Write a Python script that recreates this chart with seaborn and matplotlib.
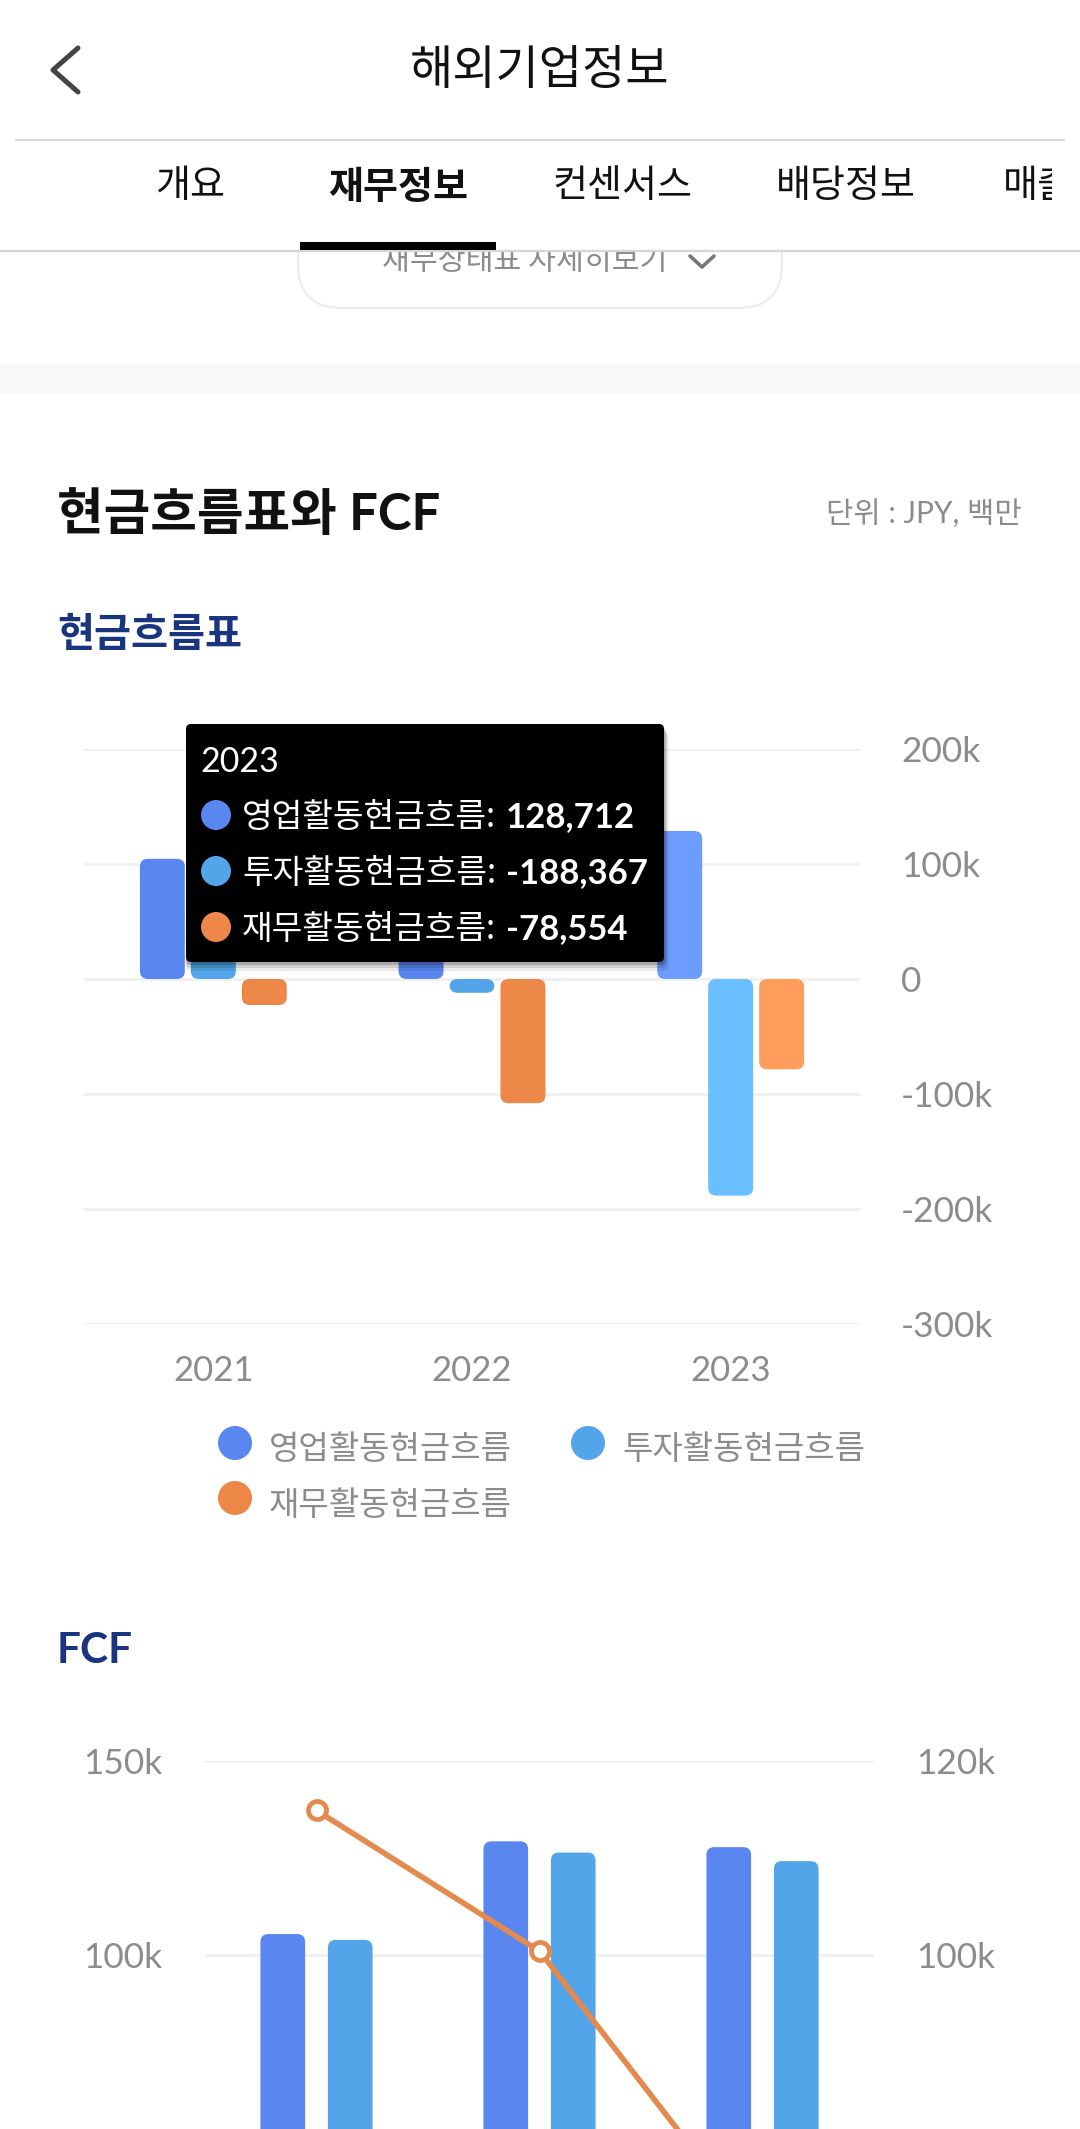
import matplotlib
matplotlib.use("Agg")
import matplotlib.pyplot as plt
from matplotlib.patches import FancyBboxPatch, Rectangle, Circle
from matplotlib.transforms import IdentityTransform
import numpy as np
import pandas as pd
import seaborn as sns

# --- data ---
years = ["2021", "2022", "2023"]
cf_names = ["영업활동현금흐름", "투자활동현금흐름", "재무활동현금흐름"]
operating_cf = [104500, 130000, 128712]
investing_cf = [30000, -12000, -188367]
financing_cf = [-22600, -108000, -78554]
cf_ticks = [200000, 100000, 0, -100000, -200000, -300000]
cf_ticklabels = ["200k", "100k", "0", "-100k", "-200k", "-300k"]

fcf_names = ["영업활동현금흐름", "투자활동현금흐름"]
fcf_operating = [105400, 129300, 127800]
fcf_second = [103900, 126400, 124200]
fcf_line = [114900, 100400, 70700]
# the lower ticks fall below the page, only these two show
fcf_left_ticks = [100000, 150000]
fcf_left_labels = ["100k", "150k"]
fcf_right_ticks = [100000, 120000]
fcf_right_labels = ["100k", "120k"]

tabs = ["개요", "재무정보", "컨센서스", "배당정보"]
tab_centers = [190, 398, 622, 846]

tooltip_year = "2023"
tooltip_values = ["128,712", "-188,367", "-78,554"]

# --- colours ---
BLUE = "#5a86f0"
SKY = "#52a5e8"
ORANGE = "#ec8748"
LINE_ORANGE = "#e48a4e"
HOVER = ["#6d9cff", "#69bfff", "#ff9d5c"]
GREY = "#8c8c8c"
GRID = "#f0f0f0"
NAVY = "#1a3580"

W, H = 1080, 2129
sns.set_theme(style="white")
plt.rcParams["font.family"] = ["Lato", "Noto Sans CJK KR", "DejaVu Sans"]
fig = plt.figure(figsize=(W / 100, H / 100), dpi=100, facecolor="white")


def px_axes(left, top, right, bottom):
    return fig.add_axes([left / W, 1 - bottom / H, (right - left) / W, (bottom - top) / H])


def round_bars(ax, radius, hover_last=None):
    # swap the seaborn bars for rounded ones, same size, in pixels
    fig.canvas.draw()
    for i, cont in enumerate(ax.containers):
        for j, bar in enumerate(cont):
            x0, y0 = ax.transData.transform((bar.get_x(), bar.get_y()))
            x1, y1 = ax.transData.transform((bar.get_x() + bar.get_width(), bar.get_y() + bar.get_height()))
            color = bar.get_facecolor()
            if hover_last is not None and j == len(cont) - 1:
                color = hover_last[i]
            bar.set_visible(False)
            ax.add_patch(FancyBboxPatch((x0, min(y0, y1)), x1 - x0, abs(y1 - y0),
                                        boxstyle=f"round,pad=0,rounding_size={radius}",
                                        fc=color, ec="none", transform=IdentityTransform(), zorder=3))


def style_axis(ax):
    ax.set_xlabel("")
    ax.set_ylabel("")
    ax.patch.set_alpha(0)
    sns.despine(ax=ax, left=True, right=True, top=True, bottom=True)


# --- 1. cash flow chart ---
cf_df = pd.DataFrame({
    "year": years * 3,
    "series": np.repeat(cf_names, 3),
    "value": operating_cf + investing_cf + financing_cf,
})
ax1 = px_axes(84, 749, 860, 1324)
sns.barplot(data=cf_df, x="year", y="value", hue="series", palette=[BLUE, SKY, ORANGE],
            width=0.591, gap=0.118, saturation=1, legend=False, ax=ax1)
ax1.set_xlim(-0.5, 2.5)
ax1.set_ylim(-300000, 200000)
ax1.set_yticks(cf_ticks, cf_ticklabels)
ax1.yaxis.tick_right()
ax1.grid(axis="y", color=GRID, lw=2)
ax1.set_axisbelow(True)
ax1.tick_params(axis="y", length=0, pad=29.5, labelsize=25.4, labelcolor=GREY)
ax1.tick_params(axis="x", length=0, pad=22, labelsize=25, labelcolor=GREY)
style_axis(ax1)
round_bars(ax1, 8, HOVER)

# --- 2. FCF chart, runs off the bottom of the page ---
fcf_df = pd.DataFrame({
    "year": years * 2,
    "series": np.repeat(fcf_names, 3),
    "value": fcf_operating + fcf_second,
})
ax2 = px_axes(205, 1761, 874, 2343)
sns.barplot(data=fcf_df, x="year", y="value", hue="series", palette=[BLUE, SKY],
            width=0.605, gap=0.338, saturation=1, legend=False, ax=ax2)
ax2.set_xlim(-0.5, 2.5)
ax2.set_ylim(0, 150000)
ax2.set_yticks(fcf_left_ticks, fcf_left_labels)
ax2.set_xticks([])
ax2.grid(axis="y", color=GRID, lw=2)
ax2.set_axisbelow(True)
ax2.tick_params(axis="y", length=0, pad=31, labelsize=25.4, labelcolor=GREY)
style_axis(ax2)
round_bars(ax2, 8)

ax2r = ax2.twinx()
sns.lineplot(x=np.arange(len(years)), y=fcf_line, color=LINE_ORANGE, lw=4, marker="o", ms=13,
             mfc="white", mec=LINE_ORANGE, mew=3.4, errorbar=None, ax=ax2r)
ax2r.set_xlim(-0.5, 2.5)
ax2r.set_ylim(60000, 120000)
ax2r.set_yticks(fcf_right_ticks, fcf_right_labels)
ax2r.set_xticks([])
ax2r.grid(False)
ax2r.tick_params(axis="y", length=0, pad=30.5, labelsize=25.4, labelcolor=GREY)
style_axis(ax2r)

# --- 3. page chrome, pixel coordinates ---
ov = fig.add_axes([0, 0, 1, 1], zorder=10)
ov.set_xlim(0, W)
ov.set_ylim(H, 0)
ov.axis("off")
ov.patch.set_alpha(0)

KR = ["Noto Sans CJK KR", "DejaVu Sans"]

# button half hidden under the tab bar
ov.add_patch(FancyBboxPatch((298, 200), 484, 108, boxstyle="round,pad=0,rounding_size=44",
                            fc="white", ec="#ececec", lw=1.6, zorder=1))
ov.text(525, 261, "재무상태표 자세히보기", family=KR, fontsize=21.8, color=GREY, ha="center", va="center", zorder=1)
ov.plot([690, 702, 714], [256, 267, 256], color="#777777", lw=2.6, zorder=1)

# header
ov.add_patch(Rectangle((0, 0), W, 250, fc="white", ec="none", zorder=2))
ov.plot([53 + 25, 53, 53 + 25], [48, 70, 92], color="#444444", lw=3.6, zorder=3)
ov.text(540, 71, "해외기업정보", family=KR, fontsize=33.9, color="#111111", ha="center", va="center", zorder=3)
ov.plot([16, 1064], [140, 140], color="#d6d6d6", lw=1.6, zorder=3)
for name, cx in zip(tabs, tab_centers):
    ov.text(cx, 187, name, family=KR, fontsize=27.4, color="#111111", ha="center", va="center",
            fontweight="bold" if name == "재무정보" else "normal", zorder=3)
cut = ov.text(1003, 187, "매출구성", family=KR, fontsize=27.4, color="#111111", ha="left", va="center",
              zorder=3, clip_on=True)
cut.set_clip_path(Rectangle((1003, 140), 49, 100, transform=ov.transData))
ov.plot([0, W], [250.5, 250.5], color="#d6d6d6", lw=1.6, zorder=3)
ov.add_patch(Rectangle((300, 242), 196, 8, fc="black", ec="none", zorder=4))

# grey band
ov.add_patch(Rectangle((0, 365), W, 29, fc="#f8f8f8", ec="none", zorder=1))

# headings
ov.text(57, 515, "현금흐름표와 FCF", fontsize=36.5, fontweight="bold", color="#111111", va="center")
ov.text(1022, 514, "단위 : JPY, 백만", fontsize=21.4, color=GREY, ha="right", va="center")
ov.text(57, 635, "현금흐름표", family=KR, fontsize=29, fontweight="bold", color=NAVY, va="center")
ov.text(57, 1651, "FCF", fontsize=30.5, fontweight="bold", color=NAVY, va="center")

# legend
legend_colors = [BLUE, SKY, ORANGE]
legend_pos = [(235, 1443), (588, 1443), (235, 1498)]
for name, col, (lx, ly) in zip(cf_names, legend_colors, legend_pos):
    ov.add_patch(Circle((lx, ly), 17, fc=col, ec="none"))
    ov.text(lx + 34, ly + 7, name, family=KR, fontsize=23.8, color=GREY, va="center")

# tooltip with a soft shadow
for off, alpha in [(9, 0.08), (6, 0.12), (3, 0.18)]:
    ov.add_patch(FancyBboxPatch((186, 724 + off), 478 + off / 2, 238, boxstyle="round,pad=0,rounding_size=5",
                                fc="black", ec="none", alpha=alpha, zorder=5))
ov.add_patch(FancyBboxPatch((186, 724), 478, 238, boxstyle="round,pad=0,rounding_size=5",
                            fc="black", ec="none", zorder=6))
ov.text(200, 762, tooltip_year, fontsize=24.5, color="white", va="center", zorder=7)
for name, val, col, ry in zip(cf_names, tooltip_values, legend_colors, [815, 871, 927]):
    ov.add_patch(Circle((216, ry), 15, fc=col, ec="none", zorder=7))
    ov.text(242, ry + 2, name + ":", family=KR, fontsize=24, color="white", va="center", zorder=7)
    ov.text(506, ry + 2, val, fontsize=25, fontweight="bold", color="white", va="center", zorder=7)

fig.savefig("out.png", dpi=100)
